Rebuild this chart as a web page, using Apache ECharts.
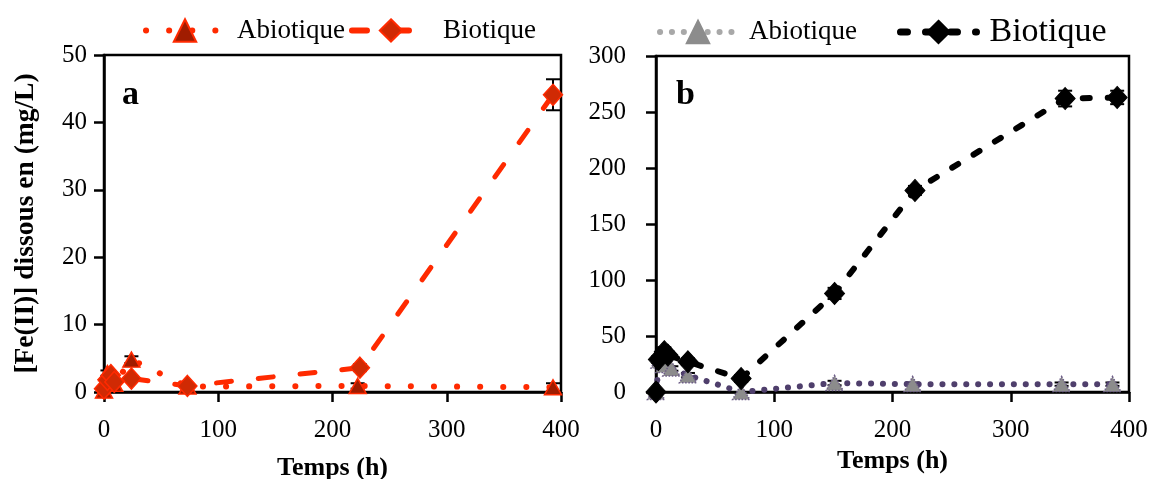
<!DOCTYPE html>
<html><head><meta charset="utf-8">
<script src="https://cdn.jsdelivr.net/npm/echarts@6/dist/echarts.min.js"></script>
<style>html,body{margin:0;padding:0;background:#fff}#c{width:1160px;height:479px}</style>
</head><body><div id="c"></div>
<script>
// ---- data ----
const xTicks = [0, 100, 200, 300, 400];
const yTicksA = [0, 10, 20, 30, 40, 50];
const yTicksB = [0, 50, 100, 150, 200, 250, 300];

const aAbioT = [0, 3, 6, 9, 24, 73, 222, 393];
const aAbioV = [0.2, 2.8, 1.5, 1.2, 4.8, 0.8, 0.9, 0.7];
const aAbioE = [0, 0.4, 0, 0, 0.5, 0.2, 0.4, 0.6];
const aBioT = [0, 3, 6, 9, 24, 73, 224, 393];
const aBioV = [0.5, 1.8, 2.5, 1.5, 2.0, 0.9, 3.6, 44.1];
const aBioE = [0, 0, 0, 0, 0.3, 0.3, 0.5, 2.3];

const bAbioT = [0, 3, 7, 13, 27, 72, 151, 217, 343, 386];
const bAbioV = [0, 28, 24, 21, 15, 0, 8, 7, 7, 7];
const bAbioE = [0, 2, 2, 2, 2, 0, 2, 1.5, 1.5, 1.5];
const bBioT = [0, 2, 7, 10, 27, 72, 151, 219, 346, 390];
const bBioV = [0, 29, 36, 33, 27, 12, 88, 180, 262, 263];
const bBioE = [0, 3, 4, 3, 3, 3, 5, 4, 7, 6];

const legendNames = ['Abiotique', 'Biotique'];
const panelLetters = ['a', 'b'];
const xTitle = 'Temps (h)';
const yTitle = '[Fe(II)] dissous en (mg/L)';

// ---- build ----
const FONT = '"Liberation Serif", "Times New Roman", serif';
const pts = (t, v) => t.map((x, i) => [x, v[i]]);
const errs = (t, v, e) => t.map((x, i) => [x, v[i] - e[i], v[i] + e[i]]).filter((d, i) => e[i] > 0);

function errRender(params, api) {
  const x = api.value(0), lo = api.value(1), hi = api.value(2);
  const p1 = api.coord([x, lo]), p2 = api.coord([x, hi]);
  const w = 7;
  const style = { stroke: '#000', lineWidth: 2 };
  return { type: 'group', children: [
    { type: 'line', shape: { x1: p1[0], y1: p1[1], x2: p2[0], y2: p2[1] }, style },
    { type: 'line', shape: { x1: p1[0] - w, y1: p1[1], x2: p1[0] + w, y2: p1[1] }, style },
    { type: 'line', shape: { x1: p2[0] - w, y1: p2[1], x2: p2[0] + w, y2: p2[1] }, style }
  ] };
}

function xAxis(gi) {
  return {
    type: 'value', gridIndex: gi, min: 0, max: 400, interval: 100,
    axisLine: { show: true, lineStyle: { color: '#000', width: 2.5 } },
    axisTick: { show: true, inside: false, length: 10, lineStyle: { color: '#000', width: 2.5 } },
    axisLabel: { color: '#000', fontFamily: FONT, fontSize: 25, margin: 26 },
    splitLine: { show: false },
    name: xTitle, nameLocation: 'middle', nameGap: gi === 0 ? 63 : 56,
    nameTextStyle: { color: '#000', fontFamily: FONT, fontSize: 26, fontWeight: 'bold' }
  };
}
function yAxis(gi, max, interval, margin, withName) {
  const o = {
    type: 'value', gridIndex: gi, min: 0, max: max, interval: interval,
    axisLine: { show: true, lineStyle: { color: '#000', width: 2.5 } },
    axisTick: { show: true, inside: false, length: 10, lineStyle: { color: '#000', width: 2.5 } },
    axisLabel: { color: '#000', fontFamily: FONT, fontSize: 25, margin: margin },
    splitLine: { show: false }
  };
  if (withName) {
    o.name = yTitle; o.nameLocation = 'middle'; o.nameGap = 64; o.nameRotate = 90;
    o.nameTextStyle = { color: '#000', fontFamily: FONT, fontSize: 27.5, fontWeight: 'bold' };
  }
  return o;
}

const RED = '#FF2A00';
const option = {
  animation: false,
  backgroundColor: '#fff',
  grid: [
    { left: 104, right: 599, top: 55, bottom: 87, containLabel: false, outerBoundsMode: 'none', show: true, borderColor: '#000', borderWidth: 2.5, backgroundColor: 'transparent' },
    { left: 656, right: 31, top: 56, bottom: 87, containLabel: false, outerBoundsMode: 'none', show: true, borderColor: '#000', borderWidth: 2.5, backgroundColor: 'transparent' }
  ],
  xAxis: [xAxis(0), xAxis(1)],
  yAxis: [yAxis(0, 50, 10, 17, true), yAxis(1, 300, 50, 30, false)],
  legend: [
    { left: 138, top: 12, itemWidth: 78, itemHeight: 28, itemGap: 4,
      data: [
        { name: legendNames[0], lineStyle: { width: 6 } },
        { name: legendNames[1], lineStyle: { width: 6 } }
      ],
      formatter: n => n.trim(),
      textStyle: { fontFamily: FONT, fontSize: 27, color: '#000', padding: [0, 0, 0, 8] } },
    { left: 652, top: 10, itemWidth: 76, itemHeight: 28, itemGap: 40,
      data: [
        { name: legendNames[0] + ' ', lineStyle: { width: 6, color: '#A8A8A8' }, itemStyle: { borderColor: '#8C8C8C', borderType: 'solid' } },
        { name: legendNames[1] + ' ', lineStyle: { width: 7 }, textStyle: { fontSize: 34 } }
      ],
      formatter: n => n.trim(),
      textStyle: { fontFamily: FONT, fontSize: 27, color: '#000', padding: [0, 0, 0, 8] } }
  ],
  graphic: [
    { type: 'text', left: 122, top: 78, style: { text: panelLetters[0], font: 'bold 34px ' + FONT, fill: '#000' } },
    { type: 'text', left: 676, top: 78, style: { text: panelLetters[1], font: 'bold 34px ' + FONT, fill: '#000' } }
  ],
  series: [
    { type: 'custom', xAxisIndex: 0, yAxisIndex: 0, z: 1, renderItem: errRender, data: errs(aAbioT, aAbioV, aAbioE), encode: { x: 0, y: [1, 2] }, clip: false },
    { type: 'custom', xAxisIndex: 0, yAxisIndex: 0, z: 1, renderItem: errRender, data: errs(aBioT, aBioV, aBioE), encode: { x: 0, y: [1, 2] }, clip: false },
    { type: 'custom', xAxisIndex: 1, yAxisIndex: 1, z: 1, renderItem: errRender, data: errs(bAbioT, bAbioV, bAbioE), encode: { x: 0, y: [1, 2] }, clip: false },
    { type: 'custom', xAxisIndex: 1, yAxisIndex: 1, z: 1, renderItem: errRender, data: errs(bBioT, bBioV, bBioE), encode: { x: 0, y: [1, 2] }, clip: false },
    { name: legendNames[0], type: 'line', xAxisIndex: 0, yAxisIndex: 0, z: 3,
      data: pts(aAbioT, aAbioV), symbol: 'triangle', symbolSize: [17, 15],
      itemStyle: { color: '#A01C00', borderColor: RED, borderWidth: 1.5 },
      lineStyle: { color: RED, width: 6, type: [0.1, 23], cap: 'round' } },
    { name: legendNames[1], type: 'line', xAxisIndex: 0, yAxisIndex: 0, z: 4,
      data: pts(aBioT, aBioV), symbol: 'diamond', symbolSize: [19, 21],
      itemStyle: { color: '#D02A04', borderColor: RED, borderWidth: 1.5 },
      lineStyle: { color: RED, width: 5, type: [15, 27], cap: 'round' } },
    { name: legendNames[0] + ' ', type: 'line', xAxisIndex: 1, yAxisIndex: 1, z: 3,
      data: pts(bAbioT, bAbioV), symbol: 'triangle', symbolSize: [17, 15],
      itemStyle: { color: '#8C8C8C', borderColor: '#6E5E88', borderWidth: 1.5, borderType: 'dotted' },
      lineStyle: { color: '#4F3F6C', width: 6, type: [0.1, 11.8], cap: 'round' } },
    { name: legendNames[1] + ' ', type: 'line', xAxisIndex: 1, yAxisIndex: 1, z: 4,
      data: pts(bBioT, bBioV), symbol: 'diamond', symbolSize: [20, 22],
      itemStyle: { color: '#000', borderColor: '#000', borderWidth: 1 },
      lineStyle: { color: '#000', width: 6, type: [7, 18], cap: 'round' } }
  ]
};
const chart = echarts.init(document.getElementById('c'), null, { renderer: 'canvas' });
chart.setOption(option);
</script>
</body></html>
